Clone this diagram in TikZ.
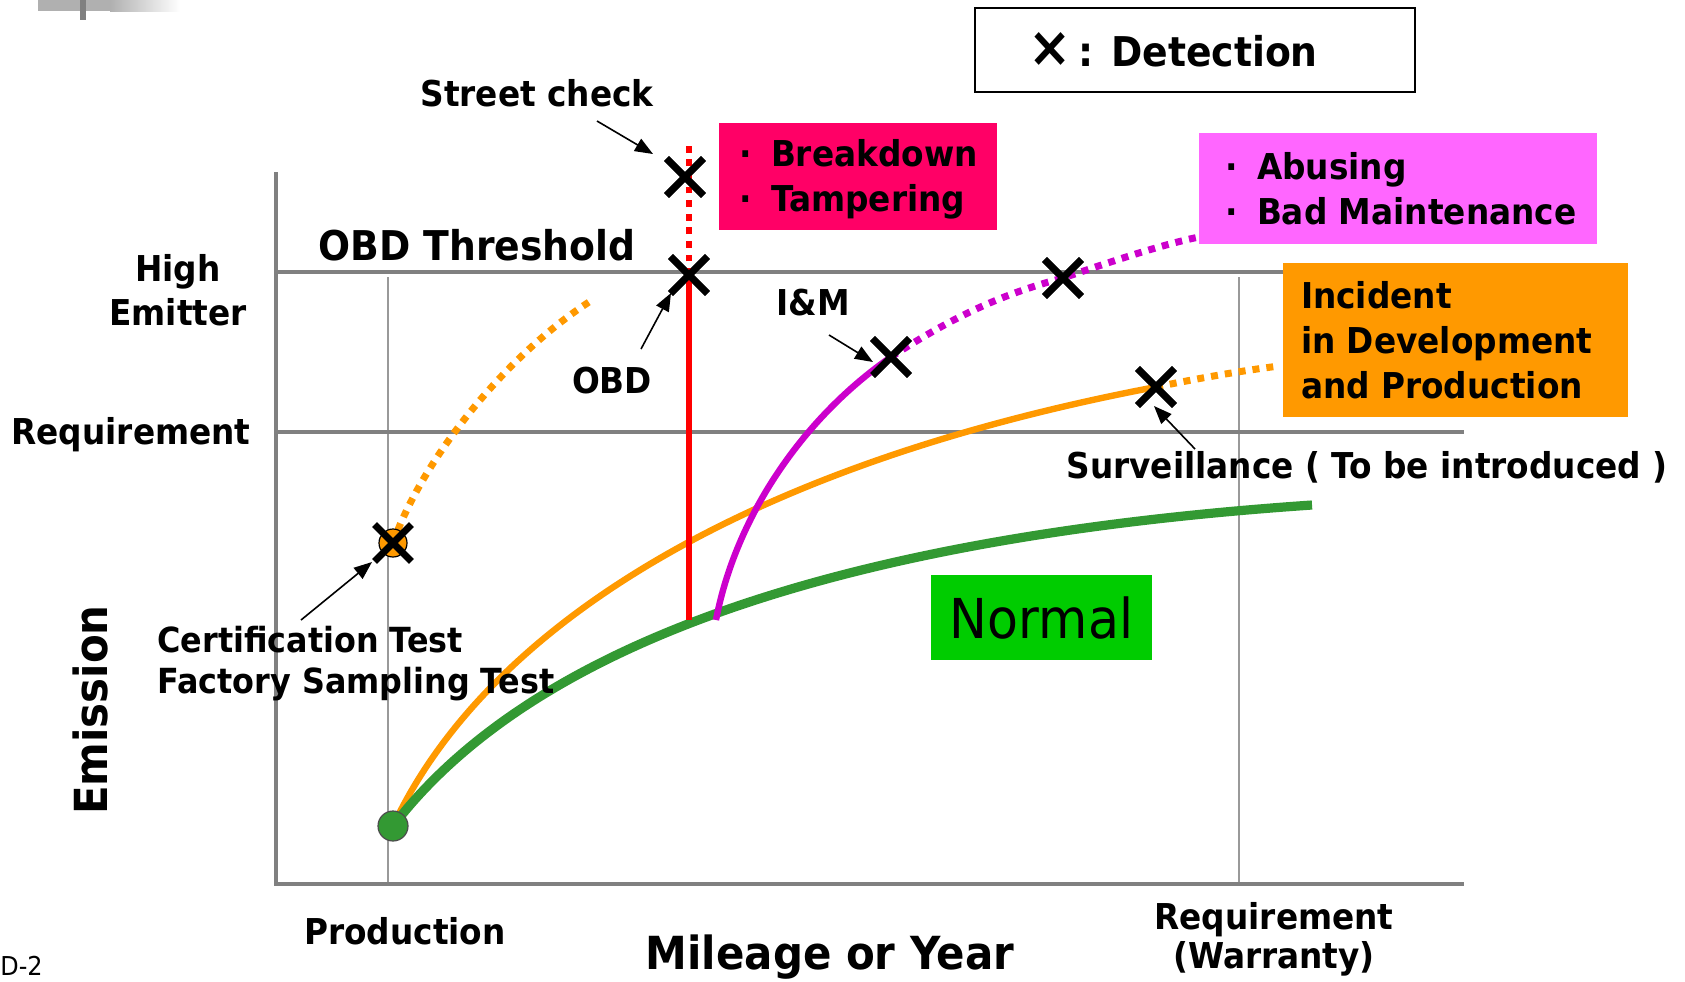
\documentclass[tikz,border=0pt]{standalone}
\usepackage{fontspec}
\setmainfont{DejaVu Sans}[FakeStretch=0.92]
\usetikzlibrary{arrows.meta,shapes.misc}
\definecolor{axgray}{HTML}{808080}
\definecolor{gridgray}{HTML}{999999}
\definecolor{cgreen}{HTML}{339933}
\definecolor{corange}{HTML}{FF9900}
\definecolor{cmag}{HTML}{CC00CC}
\definecolor{cred}{HTML}{FF0000}
\definecolor{bcrimson}{HTML}{FF0066}
\definecolor{bpink}{HTML}{FF66FF}
\definecolor{bgreen}{HTML}{00CC00}
\tikzset{
  lab/.style={font=\bfseries\fontsize{17.8}{22.5}\selectfont, inner sep=0pt},
  biglab/.style={font=\bfseries\fontsize{20.5}{24}\selectfont, inner sep=0pt},
  hugelab/.style={font=\bfseries\fontsize{22.8}{26}\selectfont, inner sep=0pt},
  axisline/.style={draw=axgray, line width=2.4pt},
  levelline/.style={draw=axgray, line width=2pt},
  gridline/.style={draw=gridgray, line width=1pt},
  xmark/.style={draw=black, cross out, line width=3.4pt, minimum size=15pt, inner sep=0pt},
  pointer/.style={draw=black, line width=0.8pt, -{Triangle[length=9pt,width=7pt]}},
  colbox/.style={inner sep=0pt, draw=none},
  dotline/.style={line width=3.5pt, dash pattern=on 3.5pt off 3.5pt},
}
\begin{document}
\begin{tikzpicture}[x=0.5pt,y=-0.5pt]
\useasboundingbox (0,0) rectangle (1685,981);
% top-left decoration
\fill[gray!62] (38,0) rectangle (110,11);
\shade[left color=gray!62,right color=white] (110,0) rectangle (180,11);
\fill[axgray] (80,0) rectangle (86,20);

% coordinates
\coordinate (ax0) at (276,884);
\coordinate (axtop) at (276,172);
\coordinate (axright) at (1464,884);
\coordinate (thl) at (276,272);
\coordinate (thr) at (1464,272);
\coordinate (rql) at (276,432);
\coordinate (rqr) at (1464,432);
\coordinate (g1t) at (388,277);
\coordinate (g1b) at (388,884);
\coordinate (g2t) at (1239,277);
\coordinate (g2b) at (1239,884);

% grid and level lines
\draw[gridline] (g1t) -- (g1b);
\draw[gridline] (g2t) -- (g2b);
\draw[levelline] (thl) -- (thr);
\draw[levelline] (rql) -- (rqr);
\draw[axisline] (axtop) -- (ax0) -- (axright);

% points
\coordinate (gend) at (1312,505);
\coordinate (redbot) at (689,620);
\coordinate (redtop) at (689,143);
\coordinate (magbot) at (716,620);
\coordinate (odtop) at (589,302);
\coordinate (orend) at (1279,366);
\coordinate (magend) at (1199,237);

\node[xmark] (x1) at (685,177) {};
\node[xmark] (x2) at (689,275) {};
\node[xmark] (x3) at (891,357) {};
\node[xmark] (x4) at (1063,278) {};
\node[xmark] (x5) at (1156,387) {};

% curves
\draw[corange, line width=3.2pt] (393,826) .. controls (480,640) and (720,470) .. (x5.center);
\draw[corange, dotline] (x5.center) .. controls (1200,378) and (1240,371) .. (orend);
\draw[corange, dotline] (393,543) .. controls (420,465) and (500,360) .. (odtop);
\draw[cgreen, line width=4.6pt] (393,826) .. controls (520,660) and (800,540) .. (gend);
\draw[cred, line width=3pt] (redbot) -- (x2.center);
\draw[cred, line width=3.4pt, dash pattern=on 3.4pt off 3.4pt] (x2.center) -- (redtop);
\draw[cmag, line width=3.2pt] (magbot) .. controls (735,520) and (800,420) .. (x3.center);
\draw[cmag, dotline] (x3.center) .. controls (960,312) and (1010,292) .. (x4.center) .. controls (1110,262) and (1160,245) .. (magend);

\node[circle, fill=cgreen, draw=black!70, line width=0.6pt, minimum size=15pt, inner sep=0pt] (orig) at (393,826) {};
\node[circle, fill=corange, draw=black, line width=0.6pt, minimum size=14pt, inner sep=0pt] (certc) at (393,543) {};
\node[xmark] (x6) at (393,543) {};
% redraw crosses on top
\node[xmark] at (x1) {};
\node[xmark] at (x2) {};
\node[xmark] at (x3) {};
\node[xmark] at (x4) {};
\node[xmark] at (x5) {};

% boxes
\node[colbox, fill=bcrimson, minimum width=139pt, minimum height=53.5pt] (bbox) at (858,176.5) {};
\node[lab, anchor=west, align=left] (btext) at ([xshift=10pt,yshift=-1.5pt]bbox.west) {\makebox[16pt][l]{·}Breakdown\\\makebox[16pt][l]{·}Tampering};
\node[colbox, fill=bpink, minimum width=199pt, minimum height=55.5pt] (abox) at (1398,188.5) {};
\node[lab, anchor=west, align=left] (atext) at ([xshift=13pt]abox.west) {\makebox[16pt][l]{·}Abusing\\\makebox[16pt][l]{·}Bad Maintenance};
\node[colbox, fill=corange, minimum width=172.5pt, minimum height=77pt] (ibox) at (1455.5,340) {};
\node[lab, anchor=west, align=left] (itext) at ([xshift=9pt]ibox.west) {Incident\\in Development\\and Production};
\node[colbox, fill=bgreen, minimum width=110.5pt, minimum height=42.5pt, font=\fontsize{27.5}{30}\selectfont] (nbox) at (1041.5,617.5) {Normal};
\node[draw=black, line width=0.8pt, minimum width=220pt, minimum height=42pt, inner sep=0pt] (legend) at (1195,50) {};
\node[biglab, anchor=west] (legtext) at ([xshift=27pt]legend.west) {{\fontsize{28}{28}\selectfont ×}\,: Detection};

% labels
\node[lab] (street) at (537,93) {Street check};
\node[biglab] (obdth) at (477,245) {OBD Threshold};
\node[lab, align=center, font=\bfseries\fontsize{17.8}{22}\selectfont] (high) at (178,290) {High\\Emitter};
\node[lab] (reqy) at (131,435) {Requirement};
\node[lab] (im) at (813,303) {I\&M};
\node[lab] (obd) at (612,381) {OBD};
\node[lab] (surv) at (1367,467) {Surveillance ( To be introduced )};
\node[lab, align=left, anchor=west, font=\bfseries\fontsize{17.3}{20.5}\selectfont] (cert) at (157,664) {Certification Test\\Factory Sampling Test};
\node[hugelab, rotate=90] (emis) at (90,710) {Emission};
\node[lab] (prod) at (405,931) {Production};
\node[hugelab] (mile) at (830,957) {Mileage or Year};
\node[lab, align=center, font=\bfseries\fontsize{17.8}{19.5}\selectfont] (reqx) at (1274,939) {Requirement\\(Warranty)};
\node[anchor=west, inner sep=0pt, font=\fontsize{13}{15}\selectfont] (d2) at (0,966) {D-2};

% pointer arrows
\coordinate (sca) at (597,121); \coordinate (scb) at (653,154);
\coordinate (oba) at (641,349); \coordinate (obb) at (671,293);
\coordinate (ima) at (829,335); \coordinate (imb) at (873,362);
\coordinate (sva) at (1195,449); \coordinate (svb) at (1154,406);
\coordinate (cea) at (301,620); \coordinate (ceb) at (372,562);
\draw[pointer] (sca) -- (scb);
\draw[pointer] (oba) -- (obb);
\draw[pointer] (ima) -- (imb);
\draw[pointer] (sva) -- (svb);
\draw[pointer] (cea) -- (ceb);
\end{tikzpicture}
\end{document}
